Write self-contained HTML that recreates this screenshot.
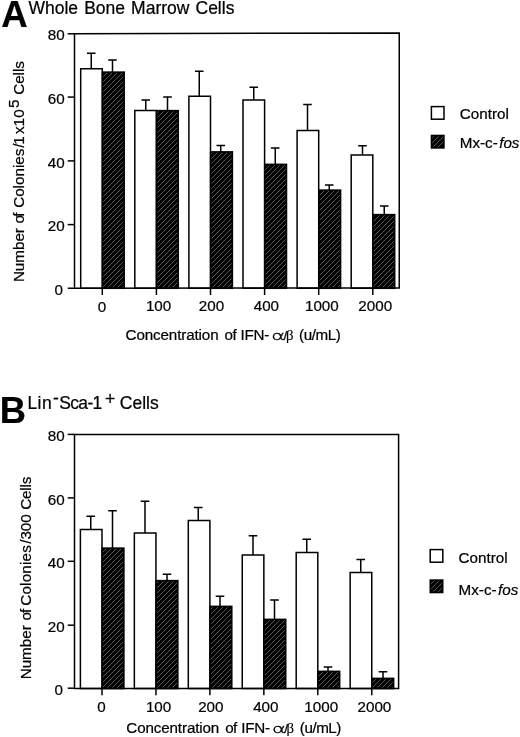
<!DOCTYPE html>
<html><head><meta charset="utf-8"><title>Figure</title>
<style>html,body{margin:0;padding:0;background:#fff}svg{display:block}text{font-family:"Liberation Sans",sans-serif;fill:#000;stroke:#000;stroke-width:0.22px}.g{font-family:"Liberation Serif",serif;stroke-width:0.1px}.ln{stroke:#000;stroke-width:1.5;fill:none}.wb{stroke:#000;stroke-width:1.5;fill:#fff}.hb{stroke:#000;stroke-width:1.6;fill:url(#h)}</style></head><body>
<svg width="520" height="737" viewBox="0 0 520 737">
<defs><pattern id="h" patternUnits="userSpaceOnUse" width="5" height="5"><rect width="5" height="5" fill="#000"/><path d="M-1.25,1.25 L1.25,-1.25 M0,5 L5,0 M3.75,6.25 L6.25,3.75" stroke="#767676" stroke-width="0.75"/></pattern></defs>
<rect width="520" height="737" fill="#fff"/>
<path class="ln" d="M91.25,68.75 V53.25 M86.95,53.25 H95.55"/>
<path class="ln" d="M112.50,72.00 V60.00 M108.20,60.00 H116.80"/>
<rect class="wb" x="80.70" y="68.75" width="21.60" height="219.50"/>
<rect class="hb" x="102.45" y="72.15" width="21.70" height="216.10"/>
<path class="ln" d="M145.75,110.50 V100.00 M141.45,100.00 H150.05"/>
<path class="ln" d="M167.50,110.50 V97.00 M163.20,97.00 H171.80"/>
<rect class="wb" x="134.80" y="110.50" width="21.60" height="177.75"/>
<rect class="hb" x="156.55" y="110.65" width="21.70" height="177.60"/>
<path class="ln" d="M199.25,96.25 V71.25 M194.95,71.25 H203.55"/>
<path class="ln" d="M220.75,151.75 V145.50 M216.45,145.50 H225.05"/>
<rect class="wb" x="188.90" y="96.25" width="21.60" height="192.00"/>
<rect class="hb" x="210.65" y="151.90" width="21.70" height="136.35"/>
<path class="ln" d="M253.75,100.00 V87.25 M249.45,87.25 H258.05"/>
<path class="ln" d="M275.25,164.25 V148.00 M270.95,148.00 H279.55"/>
<rect class="wb" x="243.00" y="100.00" width="21.60" height="188.25"/>
<rect class="hb" x="264.75" y="164.40" width="21.70" height="123.85"/>
<path class="ln" d="M307.50,130.50 V104.50 M303.20,104.50 H311.80"/>
<path class="ln" d="M329.25,190.00 V185.00 M324.95,185.00 H333.55"/>
<rect class="wb" x="297.10" y="130.50" width="21.60" height="157.75"/>
<rect class="hb" x="318.85" y="190.15" width="21.70" height="98.10"/>
<path class="ln" d="M362.50,155.00 V145.75 M358.20,145.75 H366.80"/>
<path class="ln" d="M384.25,214.50 V206.00 M379.95,206.00 H388.55"/>
<rect class="wb" x="351.20" y="155.00" width="21.60" height="133.25"/>
<rect class="hb" x="372.95" y="214.65" width="21.70" height="73.60"/>
<path class="ln" d="M74.50,33.80 L399.25,32.90 L399.25,287.90 L74.50,288.25 Z"/>
<path class="ln" d="M67.70,33.80 H74.50"/>
<path class="ln" d="M67.70,97.10 H74.50"/>
<path class="ln" d="M67.70,160.90 H74.50"/>
<path class="ln" d="M67.70,224.60 H74.50"/>
<path class="ln" d="M67.70,288.25 H74.50"/>
<path class="ln" d="M102.30,288.25 V295.05"/>
<path class="ln" d="M156.40,288.25 V295.05"/>
<path class="ln" d="M210.50,288.25 V295.05"/>
<path class="ln" d="M264.60,288.25 V295.05"/>
<path class="ln" d="M318.70,288.25 V295.05"/>
<path class="ln" d="M372.80,288.25 V295.05"/>
<path class="ln" d="M90.75,529.50 V516.25 M86.45,516.25 H95.05"/>
<path class="ln" d="M112.50,548.00 V510.75 M108.20,510.75 H116.80"/>
<rect class="wb" x="80.40" y="529.50" width="21.60" height="159.00"/>
<rect class="hb" x="102.15" y="548.15" width="21.70" height="140.35"/>
<path class="ln" d="M145.00,533.00 V501.25 M140.70,501.25 H149.30"/>
<path class="ln" d="M167.00,580.50 V574.25 M162.70,574.25 H171.30"/>
<rect class="wb" x="134.35" y="533.00" width="21.60" height="155.50"/>
<rect class="hb" x="156.10" y="580.65" width="21.70" height="107.85"/>
<path class="ln" d="M198.25,520.50 V507.50 M193.95,507.50 H202.55"/>
<path class="ln" d="M220.00,606.25 V596.25 M215.70,596.25 H224.30"/>
<rect class="wb" x="188.30" y="520.50" width="21.60" height="168.00"/>
<rect class="hb" x="210.05" y="606.40" width="21.70" height="82.10"/>
<path class="ln" d="M253.00,555.00 V535.75 M248.70,535.75 H257.30"/>
<path class="ln" d="M274.50,619.25 V600.00 M270.20,600.00 H278.80"/>
<rect class="wb" x="242.25" y="555.00" width="21.60" height="133.50"/>
<rect class="hb" x="264.00" y="619.40" width="21.70" height="69.10"/>
<path class="ln" d="M306.75,552.50 V539.25 M302.45,539.25 H311.05"/>
<path class="ln" d="M328.00,671.25 V667.00 M323.70,667.00 H332.30"/>
<rect class="wb" x="296.20" y="552.50" width="21.60" height="136.00"/>
<rect class="hb" x="317.95" y="671.40" width="21.70" height="17.10"/>
<path class="ln" d="M360.75,572.50 V559.50 M356.45,559.50 H365.05"/>
<path class="ln" d="M383.00,678.25 V671.75 M378.70,671.75 H387.30"/>
<rect class="wb" x="350.15" y="572.50" width="21.60" height="116.00"/>
<rect class="hb" x="371.90" y="678.40" width="21.70" height="10.10"/>
<path class="ln" d="M74.50,434.55 L398.60,434.55 L398.60,688.50 L74.50,688.50 Z"/>
<path class="ln" d="M67.70,434.40 H74.50"/>
<path class="ln" d="M67.70,497.90 H74.50"/>
<path class="ln" d="M67.70,561.30 H74.50"/>
<path class="ln" d="M67.70,625.20 H74.50"/>
<path class="ln" d="M67.70,688.20 H74.50"/>
<path class="ln" d="M102.00,688.50 V695.30"/>
<path class="ln" d="M155.95,688.50 V695.30"/>
<path class="ln" d="M209.90,688.50 V695.30"/>
<path class="ln" d="M263.85,688.50 V695.30"/>
<path class="ln" d="M317.80,688.50 V695.30"/>
<path class="ln" d="M371.75,688.50 V695.30"/>
<text transform="translate(1.3,27.4) scale(1.0,1)" font-size="36.6" font-weight="bold" stroke="#000" stroke-width="0.7">A</text>
<text transform="translate(-0.3,422.7) scale(1.0,1)" font-size="36.3" font-weight="bold" stroke="#000" stroke-width="0.7">B</text>
<text x="28.50" y="14.00" font-size="17.5" text-anchor="start" word-spacing="1.2">Whole Bone Marrow Cells</text>
<text y="409.3" font-size="17.5"><tspan x="27.4" letter-spacing="0.5">Lin</tspan><tspan x="52.9" dy="-5">-</tspan><tspan x="59.2" dy="5" letter-spacing="-0.65">Sca-1</tspan><tspan x="104.9" dy="-4.2">+</tspan><tspan x="114.94" dy="4.2"> Cells</tspan></text>
<text x="64.60" y="40.15" font-size="15.2" text-anchor="end">80</text>
<text x="64.60" y="103.90" font-size="15.2" text-anchor="end">60</text>
<text x="64.60" y="167.65" font-size="15.2" text-anchor="end">40</text>
<text x="64.60" y="231.40" font-size="15.2" text-anchor="end">20</text>
<text x="63.00" y="295.15" font-size="15.2" text-anchor="end">0</text>
<text x="64.60" y="441.30" font-size="15.2" text-anchor="end">80</text>
<text x="64.60" y="504.80" font-size="15.2" text-anchor="end">60</text>
<text x="64.60" y="568.20" font-size="15.2" text-anchor="end">40</text>
<text x="64.60" y="632.10" font-size="15.2" text-anchor="end">20</text>
<text x="63.00" y="695.10" font-size="15.2" text-anchor="end">0</text>
<text x="101.95" y="311.59" font-size="15.2" text-anchor="middle">0</text>
<text x="101.40" y="712.00" font-size="15.2" text-anchor="middle">0</text>
<text x="158.55" y="311.41" font-size="15.2" text-anchor="middle">100</text>
<text x="158.60" y="712.00" font-size="15.2" text-anchor="middle">100</text>
<text x="211.50" y="311.24" font-size="15.2" text-anchor="middle">200</text>
<text x="210.80" y="712.00" font-size="15.2" text-anchor="middle">200</text>
<text x="266.40" y="311.06" font-size="15.2" text-anchor="middle">400</text>
<text x="265.85" y="712.00" font-size="15.2" text-anchor="middle">400</text>
<text x="321.85" y="310.87" font-size="15.2" text-anchor="middle">1000</text>
<text x="321.20" y="712.00" font-size="15.2" text-anchor="middle">1000</text>
<text x="375.20" y="310.70" font-size="15.2" text-anchor="middle">2000</text>
<text x="374.40" y="712.00" font-size="15.2" text-anchor="middle">2000</text>
<text y="339.50" font-size="15.2"><tspan x="125.60" letter-spacing="-0.13">Concentration </tspan><tspan x="224.45" letter-spacing="-0.5">of </tspan><tspan x="240.60" letter-spacing="-0.25">IFN-</tspan></text>
<text transform="translate(271.20,339.50) scale(1.68,1)" font-size="12.6" style="font-family:'DejaVu Sans',sans-serif;font-weight:200;stroke-width:0.3px">α</text>
<text transform="translate(283.60,339.50) scale(1.15,1)" font-size="12">/</text>
<text class="g" x="285.90" y="339.50" font-size="14.8">β </text>
<text x="299.10" y="339.50" font-size="15.2" letter-spacing="-0.45">(u/mL)</text>
<text y="732.60" font-size="15.2"><tspan x="126.30" letter-spacing="-0.13">Concentration </tspan><tspan x="225.15" letter-spacing="-0.5">of </tspan><tspan x="241.30" letter-spacing="-0.25">IFN-</tspan></text>
<text transform="translate(271.90,732.60) scale(1.68,1)" font-size="12.6" style="font-family:'DejaVu Sans',sans-serif;font-weight:200;stroke-width:0.3px">α</text>
<text transform="translate(284.30,732.60) scale(1.15,1)" font-size="12">/</text>
<text class="g" x="286.60" y="732.60" font-size="14.8">β </text>
<text x="299.80" y="732.60" font-size="15.2" letter-spacing="-0.45">(u/mL)</text>
<text transform="translate(24.3,282.1) rotate(-90)" font-size="15.2"><tspan x="0">Number </tspan><tspan x="58.6 65.35">of</tspan><tspan> </tspan><tspan x="74.3">Colonies</tspan><tspan x="134.3 137.4 148.0 155.7 164.3">/1x10</tspan><tspan x="174.0" dy="-5.6">5</tspan><tspan x="183.07" dy="5.6"> Cells</tspan></text>
<text transform="translate(31.0,679.3) rotate(-90)" font-size="15.2"><tspan x="0">Number </tspan><tspan x="58.7 66.3">of</tspan><tspan> </tspan><tspan x="73.6" letter-spacing="0.2">Colonies</tspan><tspan x="135.5">/300</tspan><tspan x="165.57" letter-spacing="-0.2"> Cells</tspan></text>
<rect class="wb" x="431.40" y="106.60" width="12.6" height="12.6"/>
<rect class="hb" x="431.50" y="135.50" width="12.4" height="12.4"/>
<text x="459.80" y="118.70" font-size="15.2" text-anchor="start">Control</text>
<text x="459.80" y="148.30" font-size="15.2" text-anchor="start">Mx-c-<tspan font-style="italic" dx="1.4">fos</tspan></text>
<rect class="wb" x="430.20" y="549.60" width="12.6" height="12.6"/>
<rect class="hb" x="430.30" y="580.10" width="12.4" height="12.4"/>
<text x="458.60" y="563.20" font-size="15.2" text-anchor="start">Control</text>
<text x="458.60" y="595.20" font-size="15.2" text-anchor="start">Mx-c-<tspan font-style="italic" dx="1.4">fos</tspan></text>
</svg></body></html>
